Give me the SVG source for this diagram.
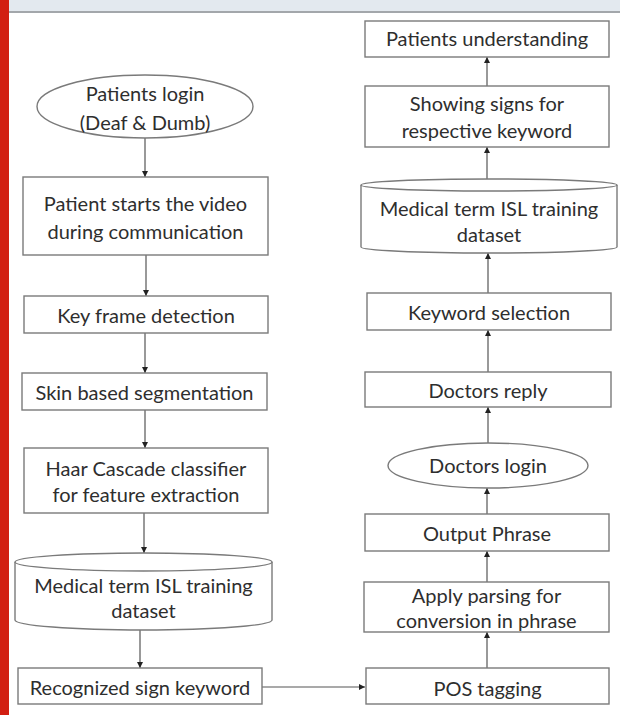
<svg xmlns="http://www.w3.org/2000/svg" width="620" height="715" viewBox="0 0 620 715">
<defs>
<style>
.box{fill:#fff;stroke:#7a7a7a;stroke-width:1.4}
.t{font-family:Lato,"Liberation Sans",sans-serif;font-size:20px;fill:#2e2e2e;text-anchor:middle;dominant-baseline:central}
.c{stroke:#555;stroke-width:1.2;fill:none;marker-end:url(#ah)}
</style>
<marker id="ah" markerUnits="userSpaceOnUse" markerWidth="8" markerHeight="8" refX="6" refY="3" orient="auto">
<path d="M0,0 L6,3 L0,6 Z" fill="#222"/>
</marker>
</defs>
<rect x="0" y="0" width="620" height="715" fill="#fff"/>
<rect x="0" y="0" width="620" height="11" fill="#e3e9ef"/>
<rect x="0" y="11" width="620" height="2" fill="#a3a7ab"/>
<rect x="0" y="0" width="9" height="715" fill="#d21f12"/>

<g id="connectors">
<line class="c" x1="145" y1="138" x2="145" y2="177"/>
<line class="c" x1="146" y1="255" x2="146" y2="296"/>
<line class="c" x1="145" y1="333" x2="145" y2="373"/>
<line class="c" x1="145" y1="410" x2="145" y2="448"/>
<line class="c" x1="144" y1="513" x2="144" y2="553"/>
<line class="c" x1="140" y1="630" x2="140" y2="668"/>
<line class="c" x1="262" y1="687" x2="365" y2="687"/>
<line class="c" x1="487" y1="668" x2="487" y2="632"/>
<line class="c" x1="487" y1="582" x2="487" y2="551"/>
<line class="c" x1="487" y1="514" x2="487" y2="488"/>
<line class="c" x1="488" y1="443" x2="488" y2="407"/>
<line class="c" x1="488" y1="372" x2="488" y2="330"/>
<line class="c" x1="488" y1="293" x2="488" y2="253"/>
<line class="c" x1="487" y1="179" x2="487" y2="147"/>
<line class="c" x1="487" y1="86" x2="487" y2="57"/>
</g>

<g id="patients-login">
<ellipse class="box" cx="145" cy="106.5" rx="108" ry="31.5"/>
<text class="t" x="145" y="93">Patients login</text>
<text class="t" x="145" y="122">(Deaf &amp; Dumb)</text>
</g>
<g id="patient-starts">
<rect class="box" x="23" y="177" width="245" height="78"/>
<text class="t" x="145.5" y="203">Patient starts the video</text>
<text class="t" x="145.5" y="231">during communication</text>
</g>
<g id="key-frame">
<rect class="box" x="24" y="296" width="244" height="37"/>
<text class="t" x="146" y="315">Key frame detection</text>
</g>
<g id="skin-seg">
<rect class="box" x="22" y="373" width="245" height="37"/>
<text class="t" x="144.5" y="392">Skin based segmentation</text>
</g>
<g id="haar">
<rect class="box" x="24" y="448" width="244" height="65"/>
<text class="t" x="146" y="468">Haar Cascade classifier</text>
<text class="t" x="146" y="494">for feature extraction</text>
</g>
<g id="dataset-left">
<path class="box" d="M15,562 A128.5,9 0 0,1 272,562 L272,620 A128.5,10 0 0,1 15,620 Z"/>
<path class="box" d="M15,562 A128.5,9 0 0,0 272,562" fill="none"/>
<text class="t" x="143.5" y="585">Medical term ISL training</text>
<text class="t" x="143.5" y="610">dataset</text>
</g>
<g id="recognized">
<rect class="box" x="18" y="668" width="244" height="36"/>
<text class="t" x="140" y="687">Recognized sign keyword</text>
</g>

<g id="pos-tagging">
<rect class="box" x="366" y="668" width="243" height="36"/>
<text class="t" x="487.5" y="688">POS tagging</text>
</g>
<g id="apply-parsing">
<rect class="box" x="364" y="582" width="245" height="50"/>
<text class="t" x="486.5" y="595">Apply parsing for</text>
<text class="t" x="486.5" y="620">conversion in phrase</text>
</g>
<g id="output-phrase">
<rect class="box" x="365" y="514" width="244" height="37"/>
<text class="t" x="487" y="533">Output Phrase</text>
</g>
<g id="doctors-login">
<ellipse class="box" cx="488" cy="465.5" rx="100" ry="22.5"/>
<text class="t" x="488" y="465">Doctors login</text>
</g>
<g id="doctors-reply">
<rect class="box" x="365" y="372" width="246" height="35"/>
<text class="t" x="488" y="390">Doctors reply</text>
</g>
<g id="keyword-selection">
<rect class="box" x="367" y="293" width="244" height="37"/>
<text class="t" x="489" y="312">Keyword selection</text>
</g>
<g id="dataset-right">
<path class="box" d="M361,185 A128,6 0 0,1 617,185 L617,247 A128,6 0 0,1 361,247 Z"/>
<path class="box" d="M361,185 A128,6 0 0,0 617,185" fill="none"/>
<text class="t" x="489" y="208">Medical term ISL training</text>
<text class="t" x="489" y="234">dataset</text>
</g>
<g id="showing-signs">
<rect class="box" x="365" y="86" width="244" height="61"/>
<text class="t" x="487" y="103">Showing signs for</text>
<text class="t" x="487" y="130">respective keyword</text>
</g>
<g id="patients-understanding">
<rect class="box" x="365" y="21" width="244" height="36"/>
<text class="t" x="487" y="38">Patients understanding</text>
</g>
</svg>
